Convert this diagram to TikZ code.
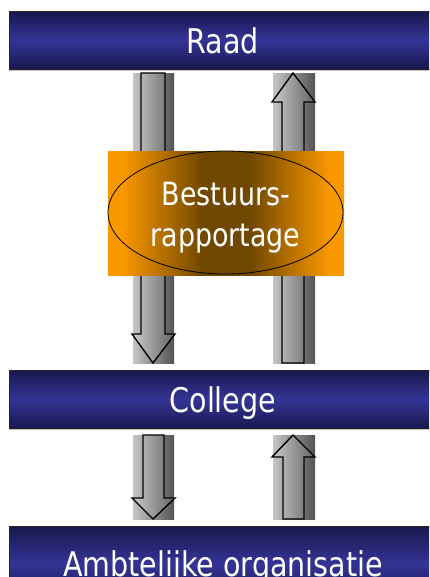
\documentclass[tikz,border=0pt]{standalone}
\usepackage{fontspec}
\setmainfont{DejaVu Sans}[FakeStretch=0.84]
\usetikzlibrary{shapes.geometric}
\definecolor{navy}{RGB}{24,24,78}
\definecolor{barmid}{RGB}{52,52,150}
\definecolor{org}{RGB}{250,152,0}
\definecolor{brn}{RGB}{112,72,0}
\definecolor{glight}{RGB}{198,198,198}
\definecolor{gdark}{RGB}{82,82,82}
\pgfdeclarehorizontalshading{orangeshade}{100bp}{color(0bp)=(org); color(25bp)=(org); color(28bp)=(org); color(45bp)=(brn); color(55bp)=(brn); color(72bp)=(org); color(75bp)=(org); color(100bp)=(org)}
\tikzset{
  bar/.style={draw=black!85, line width=0.8pt, top color=navy, bottom color=navy, middle color=barmid,
    minimum width=427pt, anchor=north west, inner sep=0pt, text=white,
    font=\fontsize{34}{40}\selectfont, text height=26pt, text depth=0pt},
  barshadow/.style={draw=black!25, line width=1.2pt},
  arrowbg/.style={left color=glight, right color=gdark},
  blockarrow/.style={draw=black, line width=1.4pt, line join=miter, left color=glight!90!white, right color=gdark!90},
  ovaltext/.style={text=white, font=\fontsize{32}{41}\selectfont, anchor=base, inner sep=0pt}
}
\begin{document}
\begin{tikzpicture}[x=1pt,y=-1pt]
\useasboundingbox (0,0) rectangle (429,577);
\clip (0,0) rectangle (429,577);
% bars
\node[bar, minimum height=58pt] (raad) at (9,11) {Raad};
\draw[barshadow] ([yshift=-1pt]raad.south west) -- ([yshift=-1pt]raad.south east);
\node[bar, minimum height=58pt] (college) at (9,370) {College};
\draw[barshadow] ([yshift=-1pt]college.south west) -- ([yshift=-1pt]college.south east);
\node[bar, minimum height=74pt] (ambt) at (9,526) {Ambtelijke organisatie};
% upper arrows
\fill[arrowbg] (133,74) rectangle (174,363);
\fill[arrowbg] (273,74) rectangle (315,363);
\draw[blockarrow] (141,73) -- (165,73) -- (165,334) -- (175,334) -- (153,363) -- (132,334) -- (141,334) -- cycle;
\draw[blockarrow] (293,73) -- (315,102) -- (304,102) -- (304,363) -- (282,363) -- (282,102) -- (272,102) -- cycle;
% lower arrows
\fill[arrowbg] (133,435) rectangle (174,519);
\fill[arrowbg] (273,435) rectangle (315,519);
\draw[blockarrow] (143,435) -- (164,435) -- (164,498) -- (175,498) -- (153,519) -- (132,498) -- (143,498) -- cycle;
\draw[blockarrow] (293,435) -- (315,457) -- (304,457) -- (304,519) -- (283,519) -- (283,457) -- (272,457) -- cycle;
% report box
\fill[shading=orangeshade] (108,152) rectangle (344,275.5);
\draw[black, line width=0.8pt] (225.5,212.5) ellipse [x radius=117.5, y radius=61.5];
\node[ovaltext] (l1) at (226,205) {Bestuurs-};
\node[ovaltext] (l2) at (225.5,246) {rapportage};
\end{tikzpicture}
\end{document}
